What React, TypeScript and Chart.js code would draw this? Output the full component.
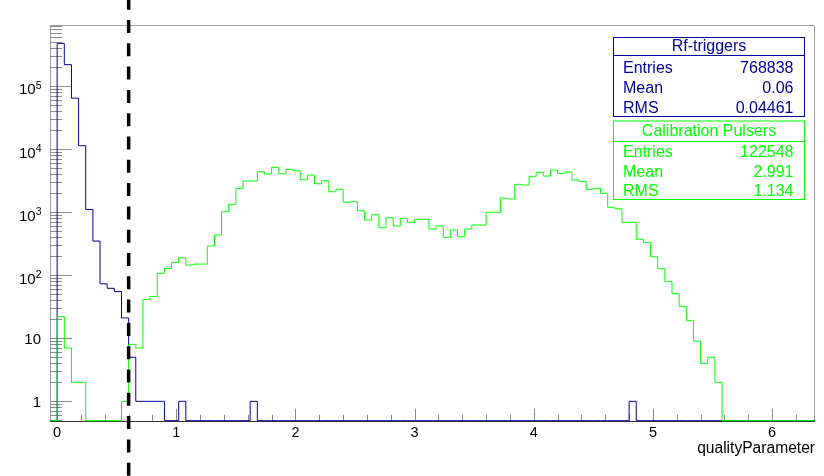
import React, { useEffect, useRef } from 'react';
import { Chart, registerables } from 'chart.js';

Chart.register(...registerables);

// ---- histogram definition ----
const BIN_WIDTH = 0.06;
const X_MIN = -0.06;
const X_MAX = 6.36;
const Y_MIN = 0.493;
const Y_MAX = 9.27e5;
const CUT_VALUE = 0.6;

// counts per bin, first bin = [0, 0.06)
const rfTriggerCounts = [
  474000, 218000, 64000, 11300, 1100, 348, 73, 62, 55, 21,
  5, 1, 1, 1, 1, 0, 0, 1, 0, 0,
  0, 0, 0, 0, 0, 0, 0, 1, 0, 0,
  0, 0, 0, 0, 0, 0, 0, 0, 0, 0,
  0, 0, 0, 0, 0, 0, 0, 0, 0, 0,
  0, 0, 0, 0, 0, 0, 0, 0, 0, 0,
  0, 0, 0, 0, 0, 0, 0, 0, 0, 0,
  0, 0, 0, 0, 0, 0, 0, 0, 0, 0,
  1, 0, 0, 0, 0, 0, 0, 0, 0, 0,
  0, 0, 0, 0, 0, 0, 0, 0, 0, 0,
  0, 0, 0, 0, 0, 0,
];

const calibrationCounts = [
  22, 7, 2, 2, 0, 0, 0, 0, 0, 1,
  8, 7, 41, 46, 107, 128, 160, 189, 145, 150,
  150, 290, 433, 1014, 1329, 2384, 3112, 3112, 4367, 4015,
  5130, 4050, 4766, 4533, 3260, 3873, 2818, 3134, 2105, 2298,
  1430, 1462, 1052, 749, 910, 565, 815, 602, 798, 689,
  769, 769, 539, 606, 398, 520, 407, 539, 624, 624,
  993, 993, 1672, 1614, 2755, 2690, 3690, 4276, 3733, 4645,
  4121, 4323, 3228, 3076, 2298, 2384, 1986, 1191, 1132, 689,
  689, 371, 332, 196, 127, 79, 51, 32, 19, 9,
  4, 5, 2, 0, 0, 0, 0, 0, 0, 0,
  0, 0, 0, 0, 0, 0,
];

const xTickValues = [0, 1, 2, 3, 4, 5, 6];
const xTickLabels = ['0', '1', '2', '3', '4', '5', '6'];
const yTickValues = [1, 10, 100, 1000, 10000, 100000];
const yTickBase = ['1', '10', '10', '10', '10', '10'];
const yTickExp = ['', '', '2', '3', '4', '5'];
const X_TITLE = 'qualityParameter';

const statLabels = ['Entries', 'Mean', 'RMS'];
const rfTitle = 'Rf-triggers';
const rfStats = ['768838', '0.06', '0.04461'];
const calTitle = 'Calibration Pulsers';
const calStats = ['122548', '2.991', '1.134'];

const BLUE = '#000099';
const GREEN = '#00ff00';
const FONT = "'Liberation Sans', Arial, Helvetica, sans-serif";

function toPoints(counts: number[]) {
  const pts: { x: number; y: number }[] = [{ x: X_MIN, y: Y_MIN }];
  counts.forEach((c, i) => {
    pts.push({ x: i * BIN_WIDTH, y: c > 0 ? c : Y_MIN });
  });
  const last = counts[counts.length - 1];
  pts.push({ x: X_MAX, y: last > 0 ? last : Y_MIN });
  return pts;
}

function drawStatBox(
  ctx: CanvasRenderingContext2D,
  color: string,
  title: string,
  values: string[],
  left: number,
  right: number,
  top: number,
  sep: number,
  bottom: number,
  titleBase: number,
  rowBase: number[]
) {
  ctx.save();
  ctx.fillStyle = '#ffffff';
  ctx.fillRect(left, top, right - left, bottom - top);
  ctx.strokeStyle = color;
  ctx.lineWidth = 1;
  ctx.strokeRect(left + 0.5, top + 0.5, right - left, bottom - top);
  ctx.beginPath();
  ctx.moveTo(left, sep + 0.5);
  ctx.lineTo(right + 1, sep + 0.5);
  ctx.stroke();
  ctx.fillStyle = color;
  ctx.font = `16px ${FONT}`;
  ctx.textAlign = 'center';
  ctx.textBaseline = 'alphabetic';
  ctx.fillText(title, (left + right) / 2 + 0.5, titleBase);
  statLabels.forEach((lab, i) => {
    ctx.textAlign = 'left';
    ctx.fillText(lab, left + 10, rowBase[i]);
    ctx.textAlign = 'right';
    ctx.fillText(values[i], right - 10.5, rowBase[i]);
  });
  ctx.restore();
}

const rootStylePlugin = {
  id: 'rootStyle',
  beforeDatasetsDraw(chart: any) {
    const { ctx, chartArea: a, scales } = chart;
    const xs = scales.x;
    const ys = scales.y;
    ctx.save();
    // frame
    ctx.strokeStyle = '#a0a0a0';
    ctx.lineWidth = 1;
    ctx.beginPath();
    ctx.moveTo(a.left + 0.5, a.bottom);
    ctx.lineTo(a.left + 0.5, a.top + 0.5);
    ctx.lineTo(a.right - 0.5, a.top + 0.5);
    ctx.lineTo(a.right - 0.5, a.bottom);
    ctx.stroke();
    // y ticks
    ctx.strokeStyle = '#8a8a8a';
    ctx.beginPath();
    for (let k = -1; k <= 6; k++) {
      for (let m = 1; m <= 9; m++) {
        const v = m * Math.pow(10, k);
        if (v < Y_MIN || v > Y_MAX) continue;
        const py = Math.round(ys.getPixelForValue(v)) + 0.5;
        const len = m === 1 ? 22 : 12;
        ctx.moveTo(a.left, py);
        ctx.lineTo(a.left + len, py);
      }
    }
    ctx.stroke();
    // x ticks
    ctx.beginPath();
    for (let j = 0; j <= 31; j++) {
      const v = j * 0.2;
      if (v > X_MAX) continue;
      const px = Math.round(xs.getPixelForValue(v)) + 0.5;
      const len = j % 5 === 0 ? 12 : 6;
      ctx.moveTo(px, a.bottom);
      ctx.lineTo(px, a.bottom - len);
    }
    ctx.stroke();
    // x axis line
    ctx.strokeStyle = '#333333';
    ctx.beginPath();
    ctx.moveTo(a.left, Math.round(a.bottom) + 0.5);
    ctx.lineTo(a.right, Math.round(a.bottom) + 0.5);
    ctx.stroke();
    ctx.restore();
  },
  afterDraw(chart: any) {
    const { ctx, chartArea: a, scales } = chart;
    const xs = scales.x;
    const ys = scales.y;
    ctx.save();
    ctx.fillStyle = '#000000';
    // x tick labels
    ctx.font = `14.5px ${FONT}`;
    ctx.textAlign = 'center';
    ctx.textBaseline = 'alphabetic';
    xTickValues.forEach((v, i) => {
      ctx.fillText(xTickLabels[i], xs.getPixelForValue(v), 437);
    });
    // y tick labels
    yTickValues.forEach((v, i) => {
      const py = ys.getPixelForValue(v);
      if (!yTickExp[i]) {
        ctx.font = `15px ${FONT}`;
        ctx.textAlign = 'right';
        ctx.fillText(yTickBase[i], 41, py + 6);
      } else {
        ctx.font = `10.5px ${FONT}`;
        ctx.textAlign = 'right';
        const ew = ctx.measureText(yTickExp[i]).width;
        ctx.fillText(yTickExp[i], 41.5, py + 3);
        ctx.font = `15px ${FONT}`;
        ctx.fillText(yTickBase[i], 41.5 - ew, py + 8.5);
      }
    });
    // axis title
    ctx.font = `15.6px ${FONT}`;
    ctx.textAlign = 'right';
    ctx.fillText(X_TITLE, a.right, 453);

    // cut line
    const cx = xs.getPixelForValue(CUT_VALUE);
    ctx.strokeStyle = '#000000';
    ctx.lineWidth = 3.5;
    ctx.setLineDash([13, 10.3]);
    ctx.beginPath();
    ctx.moveTo(cx, -3.3);
    ctx.lineTo(cx, chart.height);
    ctx.stroke();
    ctx.setLineDash([]);
    ctx.restore();

    drawStatBox(ctx, BLUE, rfTitle, rfStats, 613, 804, 37, 55, 116, 51, [72.7, 92.7, 112.7]);
    drawStatBox(ctx, GREEN, calTitle, calStats, 613, 804, 120.5, 141, 199, 136, [156.7, 176.7, 196.2]);
  },
};

export default function App() {
  const ref = useRef<HTMLCanvasElement>(null);
  useEffect(() => {
    document.body.style.margin = '0';
    const canvas = ref.current!;
    const chart = new Chart(canvas, {
      type: 'line',
      data: {
        datasets: [
          {
            label: calTitle,
            data: toPoints(calibrationCounts),
            borderColor: GREEN,
            borderWidth: 1,
            stepped: 'before',
            pointRadius: 0,
            fill: false,
            clip: 2,
          },
          {
            label: rfTitle,
            data: toPoints(rfTriggerCounts),
            borderColor: BLUE,
            borderWidth: 1,
            stepped: 'before',
            pointRadius: 0,
            fill: false,
            clip: 2,
          },
        ],
      },
      options: {
        animation: false,
        responsive: false,
        events: [],
        layout: { padding: { left: 50, top: 25, right: 9, bottom: 55.3 } },
        scales: {
          x: { type: 'linear', min: X_MIN, max: X_MAX, display: false },
          y: { type: 'logarithmic', min: Y_MIN, max: Y_MAX, display: false },
        },
        plugins: { legend: { display: false }, tooltip: { enabled: false } },
      },
      plugins: [rootStylePlugin],
    } as any);
    return () => chart.destroy();
  }, []);
  return (
    <div style={{ position: 'absolute', left: 0, top: 0, width: 824, height: 476, background: '#ffffff' }}>
      <canvas ref={ref} width={824} height={476} style={{ display: 'block', width: 824, height: 476 }} />
    </div>
  );
}
